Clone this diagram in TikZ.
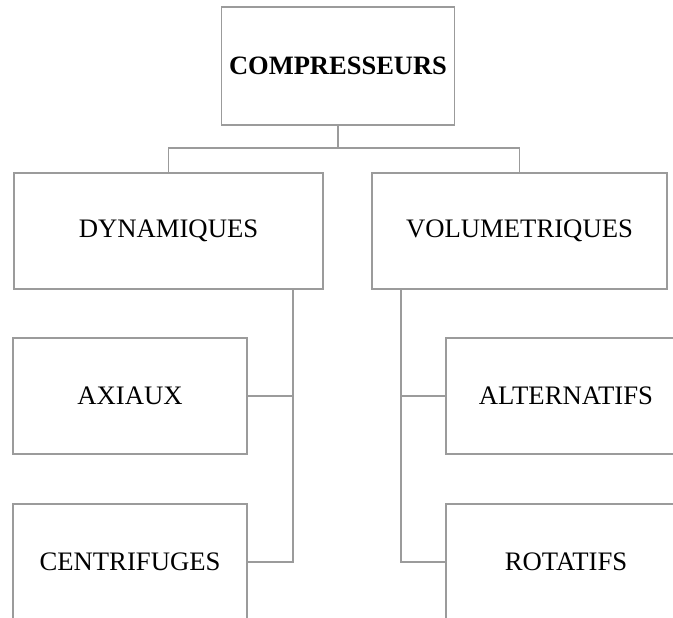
\documentclass[tikz,border=0pt]{standalone}
\usepackage{fontspec}
\setmainfont{Liberation Serif}
\usepackage{tikz}
\usetikzlibrary{positioning}

\definecolor{boxgray}{RGB}{155,155,155}

\begin{document}
\begin{tikzpicture}[x=1pt, y=-1pt, node distance={48pt},
    box/.style = {draw=boxgray, line width=1.8pt, inner sep=0pt,
        font=\fontsize{26.7}{30}\selectfont},
    link/.style = {draw=boxgray, line width=1.8pt}]
            \useasboundingbox (0,0) rectangle (673,618);
            \clip (0,0) rectangle (673,618);

            % Nodes
            \node[box, minimum width=233pt, minimum height=118pt, font=\fontsize{26.5}{30}\selectfont\bfseries] (comp) at (338,66) {COMPRESSEURS};
            \node[box, minimum width=309pt, minimum height=116pt] (dyn) at (168.5,231) {DYNAMIQUES};
            \node[box, minimum width=295pt, minimum height=116pt] (vol) at (519.5,231) {VOLUMETRIQUES};
            \node[box, minimum width=234pt, minimum height=116pt] (axi) at (130,396) {AXIAUX};
            \node[box, minimum width=234pt, minimum height=116pt] (cent) [below=of axi] {CENTRIFUGES};
            \node[box, minimum width=240pt, minimum height=116pt] (alt) at (566,396) {ALTERNATIFS};
            \node[box, minimum width=240pt, minimum height=116pt] (rot) [below=of alt] {ROTATIFS};

            % Rails
            \coordinate (dynrail) at ([xshift=124.5pt]dyn.south);
            \coordinate (volrail) at ([xshift=30pt]vol.south west);

            % Lines
            \draw[link] (comp.south) -- ++(0,22) coordinate (bus);
            \draw[link] (bus) -| (dyn.north);
            \draw[link] (bus) -| (vol.north);
            \draw[link] (dynrail) |- (cent.east);
            \draw[link] (axi.east) -- (axi.east -| dynrail);
            \draw[link] (volrail) |- (rot.west);
            \draw[link] (alt.west) -- (alt.west -| volrail);

        \end{tikzpicture}
\end{document}
